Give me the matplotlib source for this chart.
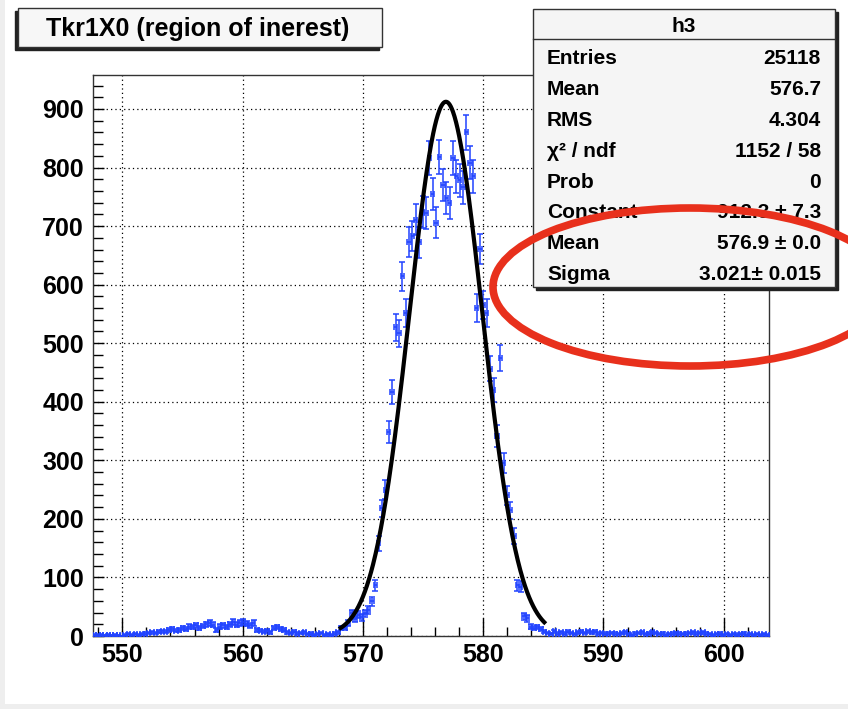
import numpy as np
import matplotlib
matplotlib.use('Agg')
import matplotlib.pyplot as plt
from matplotlib.patches import Rectangle, Ellipse
from matplotlib.lines import Line2D
from matplotlib.ticker import MultipleLocator

plt.rcParams['font.family'] = ['Liberation Sans', 'DejaVu Sans']

# ---------------- data ----------------
x_min, x_max, n_bins = 547.56, 603.76, 200
counts = [
    2, 1, 2, 1, 2, 1, 2, 1, 0, 2, 3, 2, 3, 2, 3, 4, 5, 6, 5, 7,
    8, 7, 10, 12, 9, 11, 13, 12, 16, 15, 18, 14, 17, 20, 22, 19, 10, 16, 18, 15,
    20, 24, 19, 22, 24, 21, 18, 22, 10, 9, 7, 9, 6, 13, 15, 12, 11, 6, 5, 7,
    4, 5, 6, 3, 4, 2, 3, 5, 2, 3, 2, 4, 6, 13, 13, 22, 39, 29, 36, 32,
    39, 44, 59, 87, 158, 218, 250, 348, 416, 527, 517, 614, 552, 673, 683, 711, 672, 724, 722, 816,
    755, 706, 818, 770, 748, 740, 816, 785, 778, 766, 860, 808, 785, 560, 661, 565, 552, 456, 420, 341,
    475, 295, 240, 215, 171, 87, 84, 34, 30, 16, 14, 15, 12, 7, 5, 3, 8, 4, 6, 4,
    7, 5, 3, 6, 7, 5, 8, 6, 7, 4, 5, 3, 4, 5, 4, 3, 5, 6, 3, 2,
    4, 5, 6, 3, 4, 6, 5, 3, 4, 2, 3, 4, 5, 4, 3, 4, 5, 6, 4, 5,
    6, 4, 3, 2, 3, 4, 2, 3, 2, 3, 2, 3, 4, 2, 3, 2, 3, 2, 3, 2,
]

fit_const, fit_mean, fit_sigma = 912.3, 576.9, 3.021
fit_lo, fit_hi = 568.0, 585.2

title_text = "Tkr1X0 (region of inerest)"
stats_name = "h3"
stats_labels = ["Entries", "Mean", "RMS", "\u03c7\u00b2 / ndf", "Prob",
                "Constant", "Mean", "Sigma"]
stats_values = ["25118", "576.7", "4.304", "1152 / 58", "0",
                "912.3 \u00b1 7.3", "576.9 \u00b1 0.0", "3.021\u00b1 0.015"]

x_major = [550, 560, 570, 580, 590, 600]
y_major = [0, 100, 200, 300, 400, 500, 600, 700, 800, 900]
y_max = 958

# ---------------- figure ----------------
W, H = 848, 709
fig = plt.figure(figsize=(W / 100, H / 100), dpi=100)
fig.patch.set_facecolor('white')


def fx(px):
    return px / W


def fy(py):
    return 1 - py / H


# faint grey rim of the screenshot
fig.add_artist(Rectangle((0, 0), fx(5), 1, transform=fig.transFigure,
                         facecolor='#eeeeee', edgecolor='none', zorder=0))
fig.add_artist(Rectangle((0, 0), 1, fy(704), transform=fig.transFigure,
                         facecolor='#eeeeee', edgecolor='none', zorder=0))

ax = fig.add_axes([fx(93), fy(636), fx(769) - fx(93), fy(75) - fy(636)])
ax.set_xlim(x_min, x_max)
ax.set_ylim(0, y_max)

edges = np.linspace(x_min, x_max, n_bins + 1)
centers = 0.5 * (edges[:-1] + edges[1:])
half_w = 0.5 * (edges[1] - edges[0])
cnt = np.array(counts, dtype=float)

blue = '#2244ff'
ax.errorbar(centers, cnt, yerr=np.sqrt(cnt), xerr=half_w, fmt='none',
            ecolor=blue, elinewidth=1.3, capsize=2.0, capthick=1.3,
            alpha=0.85, zorder=3)

xf = np.linspace(fit_lo, fit_hi, 400)
yf = fit_const * np.exp(-0.5 * ((xf - fit_mean) / fit_sigma) ** 2)
ax.plot(xf, yf, color='black', lw=3.0, zorder=4, solid_capstyle='butt')

ax.set_xticks(x_major)
ax.set_yticks(y_major)
ax.xaxis.set_minor_locator(MultipleLocator(2))
ax.yaxis.set_minor_locator(MultipleLocator(20))
ax.tick_params(axis='x', which='major', direction='in', length=13, width=1.0,
               labelsize=18, pad=5, top=False)
ax.tick_params(axis='x', which='minor', direction='in', length=6.5, width=1.0, top=False)
ax.tick_params(axis='y', which='major', direction='in', length=8, width=1.0,
               labelsize=18, pad=6.5, right=False)
ax.tick_params(axis='y', which='minor', direction='in', length=7, width=1.0, right=False)
for lab in ax.get_xticklabels() + ax.get_yticklabels():
    lab.set_fontweight('bold')

ax.grid(True, which='major', color='black', linestyle=(0, (1, 2.5)), linewidth=0.9)
for s in ax.spines.values():
    s.set_linewidth(1.0)
    s.set_color('#333333')

# ---------------- title box ----------------
fig.add_artist(Rectangle((fx(15), fy(50)), fx(379) - fx(15), fy(11) - fy(50),
                         transform=fig.transFigure, facecolor='#222222',
                         edgecolor='#222222', lw=1, zorder=5))
fig.add_artist(Rectangle((fx(18), fy(47)), fx(382) - fx(18), fy(8) - fy(47),
                         transform=fig.transFigure, facecolor='#f7f7f7',
                         edgecolor='#333333', lw=1, zorder=6))
fig.text(fx(198), fy(29), title_text, ha='center', va='center',
         fontsize=18, fontweight='bold', zorder=7)

# ---------------- stats box ----------------
fig.add_artist(Rectangle((fx(536), fy(290)), fx(838) - fx(536), fy(12) - fy(290),
                         transform=fig.transFigure, facecolor='#222222',
                         edgecolor='#222222', lw=1, zorder=5))
fig.add_artist(Rectangle((fx(533), fy(287)), fx(835) - fx(533), fy(9) - fy(287),
                         transform=fig.transFigure, facecolor='#f5f5f5',
                         edgecolor='#333333', lw=1, zorder=6))
fig.add_artist(Line2D([fx(533), fx(835)], [fy(39), fy(39)], transform=fig.transFigure,
                      color='#333333', lw=1, zorder=7))
fig.text(fx(684), fy(27), stats_name, ha='center', va='center',
         fontsize=15, fontweight='bold', zorder=8)
row_y0, row_dy = 58.5, 30.9
for k, (lab, val) in enumerate(zip(stats_labels, stats_values)):
    yy = row_y0 + k * row_dy
    fig.text(fx(547), fy(yy), lab, ha='left', va='center',
             fontsize=15, fontweight='bold', zorder=8)
    fig.text(fx(821), fy(yy), val, ha='right', va='center',
             fontsize=15, fontweight='bold', zorder=8)

# ---------------- red annotation ellipse ----------------
fig.add_artist(Ellipse((fx(690), fy(287)), width=2 * 197 / W, height=2 * 79 / H,
                       transform=fig.transFigure, facecolor='none',
                       edgecolor='#e8301c', lw=5.5, zorder=10, clip_on=False))

fig.savefig('out.png', dpi=100)
